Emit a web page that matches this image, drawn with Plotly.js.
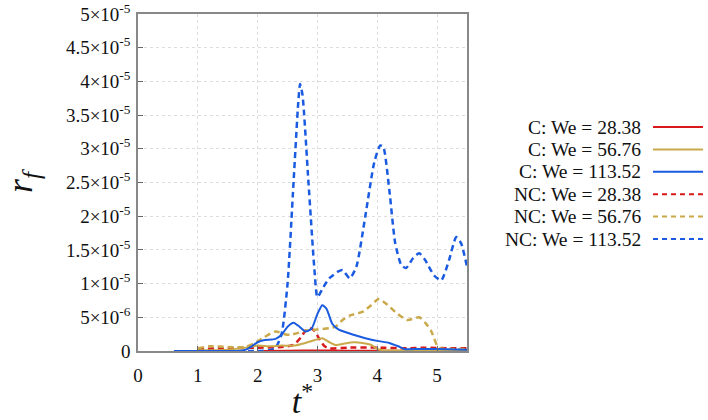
<!DOCTYPE html>
<html>
<head>
<meta charset="utf-8">
<script src="https://cdn.plot.ly/plotly-3.0.1.min.js"></script>
<style>html,body{margin:0;padding:0;background:#fff;}#chart{width:708px;height:420px;}</style>
</head>
<body>
<div id="chart"></div>
<script>
// ---- data (values in units of 1e-6) ----
var seriesNames = ["C: We = 28.38", "C: We = 56.76", "C: We = 113.52",
                   "NC: We = 28.38", "NC: We = 56.76", "NC: We = 113.52"];

var tC28 = [2.1, 2.5, 3.0, 3.5, 4.0, 4.5, 5.0, 5.5];
var yC28 = [0.0, 0.05, 0.08, 0.05, 0.05, 0.05, 0.05, 0.05];

var tC56 = [1.0, 1.5, 1.8, 2.0, 2.2, 2.4, 2.6, 2.8, 2.95, 3.08, 3.2, 3.3, 3.45, 3.6, 3.75, 3.9, 4.0, 4.1, 4.5, 5.0, 5.5];
var yC56 = [0.1, 0.2, 0.5, 0.8, 0.7, 0.8, 0.8, 1.2, 1.6, 1.9, 1.3, 0.9, 1.1, 1.3, 1.2, 0.9, 0.3, 0.1, 0.08, 0.05, 0.05];

var tC113 = [0.6, 1.0, 1.5, 1.7, 1.8, 1.9, 2.0, 2.1, 2.3, 2.4, 2.5, 2.6, 2.7, 2.8, 2.9, 3.0, 3.08, 3.15, 3.25, 3.35, 3.5, 3.6, 3.8, 4.0, 4.2, 4.35, 4.45, 4.7, 5.0, 5.5];
var yC113 = [0.0, 0.0, 0.0, 0.0, 0.2, 0.7, 1.3, 1.6, 1.8, 2.4, 3.6, 4.2, 3.6, 2.9, 3.3, 5.5, 6.8, 6.3, 4.0, 3.2, 2.7, 2.4, 1.9, 1.5, 1.2, 0.7, 0.3, 0.3, 0.3, 0.2];

var tNC28 = [1.0, 1.5, 2.0, 2.4, 2.6, 2.72, 2.8, 2.87, 2.95, 3.03, 3.12, 3.2, 3.5, 4.0, 4.5, 4.8, 5.2, 5.5];
var yNC28 = [0.3, 0.4, 0.5, 0.6, 0.9, 2.0, 3.0, 3.4, 3.0, 1.8, 0.7, 0.4, 0.5, 0.5, 0.4, 0.5, 0.4, 0.4];

var tNC56 = [1.0, 1.2, 1.5, 1.8, 1.95, 2.1, 2.3, 2.45, 2.55, 2.8, 3.0, 3.2, 3.3, 3.42, 3.55, 3.75, 3.9, 4.02, 4.15, 4.3, 4.5, 4.7, 4.8, 4.9, 5.0, 5.05, 5.5];
var yNC56 = [0.4, 0.7, 0.6, 0.6, 1.2, 2.0, 2.9, 2.5, 2.4, 3.0, 3.2, 3.4, 3.6, 4.6, 5.3, 5.8, 6.8, 7.7, 7.0, 5.8, 4.6, 5.0, 4.2, 3.0, 0.8, 0.4, 0.3];

var tNC113 = [1.0, 1.5, 2.0, 2.2, 2.3, 2.4, 2.5, 2.6, 2.68, 2.71, 2.75, 2.85, 2.95, 3.0, 3.1, 3.2, 3.35, 3.42, 3.54, 3.65, 3.8, 3.95, 4.05, 4.1, 4.2, 4.3, 4.4, 4.48, 4.6, 4.7, 4.8, 4.95, 5.07, 5.2, 5.32, 5.4, 5.5];
var yNC113 = [0.0, 0.0, 0.0, 0.1, 0.5, 2.5, 10.0, 25.0, 37.0, 39.6, 38.0, 25.0, 12.0, 8.0, 9.5, 10.8, 11.8, 12.0, 10.8, 12.5, 20.0, 28.0, 30.5, 30.3, 24.0, 16.0, 12.8, 12.3, 13.8, 14.5, 13.5, 11.2, 10.5, 13.5, 16.9, 16.0, 12.5];

var xTickVals = [0, 1, 2, 3, 4, 5];
var yTickVals = [0, 5, 10, 15, 20, 25, 30, 35, 40, 45, 50];
var yTickText = ["0", "5×10<sup>-6</sup>", "1×10<sup>-5</sup>", "1.5×10<sup>-5</sup>", "2×10<sup>-5</sup>",
                 "2.5×10<sup>-5</sup>", "3×10<sup>-5</sup>", "3.5×10<sup>-5</sup>", "4×10<sup>-5</sup>",
                 "4.5×10<sup>-5</sup>", "5×10<sup>-5</sup>"];

// ---- styles ----
var colors = ["#d7191c", "#c9a94a", "#1a5be0", "#d7191c", "#c9a94a", "#1a5be0"];
var dashes = ["solid", "solid", "solid", "6px,4px", "6px,4px", "6px,4px"];
var widths = [2, 2, 2, 2.5, 2.5, 2.5];

var xs = [tC28, tC56, tC113, tNC28, tNC56, tNC113];
var ys = [yC28, yC56, yC113, yNC28, yNC56, yNC113];
var order = [3, 4, 5, 0, 1, 2];

var traces = order.map(function (i) {
  return {
    x: xs[i], y: ys[i], name: seriesNames[i], type: "scatter", mode: "lines",
    line: {color: colors[i], width: widths[i], dash: dashes[i], shape: "spline", smoothing: 0.6},
    showlegend: false, hoverinfo: "skip"
  };
});

var FONT = "Liberation Serif";
var plotL = 138, plotR = 467, plotT = 14, plotB = 351;
var pw = plotR - plotL, ph = plotB - plotT;

var annotations = [], shapes = [];
seriesNames.forEach(function (nm, i) {
  var py = 127 + i * 22.4;
  var yp = (plotB - py) / ph;
  annotations.push({
    xref: "paper", yref: "paper", x: (643 - plotL) / pw, y: yp,
    xanchor: "right", yanchor: "middle", showarrow: false, text: nm,
    font: {family: FONT, size: 19.5, color: "#111"}
  });
  shapes.push({
    type: "line", xref: "paper", yref: "paper",
    x0: (653 - plotL) / pw, x1: (703 - plotL) / pw, y0: yp, y1: yp,
    line: {color: colors[i], width: 2, dash: i < 3 ? "solid" : "5px,4px"}
  });
});

var layout = {
  width: 708, height: 420,
  margin: {l: plotL, r: 708 - plotR, t: plotT, b: 420 - plotB, pad: 0},
  paper_bgcolor: "#fff", plot_bgcolor: "#fff",
  font: {family: FONT, size: 18, color: "#111"},
  showlegend: false,
  xaxis: {
    range: [0, 5.5], tickvals: xTickVals, ticks: "inside", ticklen: 5, tickcolor: "#666",
    showline: true, linecolor: "#888", linewidth: 1.5, mirror: true,
    showgrid: true, gridcolor: "#ddd", griddash: "dot", gridwidth: 1, zeroline: false,
    tickfont: {family: FONT, size: 19, color: "#111"}, ticklabelstandoff: 6,
    title: {text: "<i>t</i><sup>*</sup>", font: {family: FONT, size: 34, color: "#111"}, standoff: 8}
  },
  yaxis: {
    range: [0, 50], tickvals: yTickVals, ticktext: yTickText, ticks: "inside", ticklen: 5, tickcolor: "#666",
    showline: true, linecolor: "#888", linewidth: 1.5, mirror: true,
    showgrid: true, gridcolor: "#ddd", griddash: "dot", gridwidth: 1, zeroline: false,
    tickfont: {family: FONT, size: 19, color: "#111"}, ticklabelstandoff: 2,
    title: {text: "<i>r</i><sub><i>f</i></sub>", font: {family: FONT, size: 36, color: "#111"}, standoff: 24}
  },
  annotations: annotations,
  shapes: shapes
};

Plotly.newPlot("chart", traces, layout, {displayModeBar: false});
</script>
</body>
</html>
